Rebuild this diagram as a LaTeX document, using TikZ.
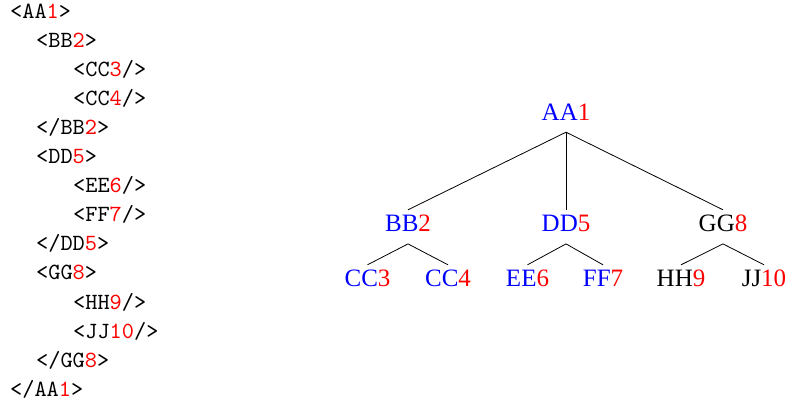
\documentclass[tikz,border=0pt]{standalone}
\usepackage{fontspec}
\setmonofont{lmmono10-regular}[Extension=.otf]
\newfontfamily\treefont{Liberation Serif}
\newcommand\rn[1]{\textcolor{red}{#1}}
\newcommand\bl[1]{\textcolor{blue}{#1}}
\begin{document}
\begin{tikzpicture}[x=1pt,y=-1pt,
  codeline/.style={anchor=base west,inner sep=0pt,font=\fontsize{23.2}{29}\selectfont\ttfamily},
  tnode/.style={anchor=base,inner xsep=2pt,inner ysep=3pt,text height=18.7pt,text depth=9pt,font=\fontsize{25}{30}\selectfont\treefont},
  edge/.style={draw=black,line width=0.8pt}]
\useasboundingbox (0,0) rectangle (790,407);
% code listing
\node[codeline] (c1) at (10,18) {<AA\rn{1}>};
\node[codeline] (c2) at (36,47.1) {<BB\rn{2}>};
\node[codeline] (c3) at (73,76.2) {<CC\rn{3}/>};
\node[codeline] (c4) at (73,105.3) {<CC\rn{4}/>};
\node[codeline] (c5) at (36,134.4) {</BB\rn{2}>};
\node[codeline] (c6) at (36,163.5) {<DD\rn{5}>};
\node[codeline] (c7) at (73,192.6) {<EE\rn{6}/>};
\node[codeline] (c8) at (73,221.7) {<FF\rn{7}/>};
\node[codeline] (c9) at (36,250.8) {</DD\rn{5}>};
\node[codeline] (c10) at (36,279.9) {<GG\rn{8}>};
\node[codeline] (c11) at (73,309) {<HH\rn{9}/>};
\node[codeline] (c12) at (73,338.1) {<JJ\rn{10}/>};
\node[codeline] (c13) at (36,367.2) {</GG\rn{8}>};
\node[codeline] (c14) at (10,396.3) {</AA\rn{1}>};
% tree
\node[tnode] (aa) at (566,120) {\bl{AA}\rn{1}};
\node[tnode] (bb) at (408,231.7) {\bl{BB}\rn{2}};
\node[tnode] (dd) at (566,231.7) {\bl{DD}\rn{5}};
\node[tnode] (gg) at (723,231.7) {GG\rn{8}};
\node[tnode] (cc3) at (367.5,286.7) {\bl{CC}\rn{3}};
\node[tnode] (cc4) at (448,286.7) {\bl{CC}\rn{4}};
\node[tnode] (ee) at (527.5,286.7) {\bl{EE}\rn{6}};
\node[tnode] (ff) at (603,286.7) {\bl{FF}\rn{7}};
\node[tnode] (hh) at (681,286.7) {HH\rn{9}};
\node[tnode] (jj) at (764,286.7) {JJ\rn{10}};
\path[edge] (aa.south) -- (bb.north);
\path[edge] (aa.south) -- (dd.north);
\path[edge] (aa.south) -- (gg.north);
\path[edge] (bb.south) -- (cc3.north);
\path[edge] (bb.south) -- (cc4.north);
\path[edge] (dd.south) -- (ee.north);
\path[edge] (dd.south) -- (ff.north);
\path[edge] (gg.south) -- (hh.north);
\path[edge] (gg.south) -- (jj.north);
\end{tikzpicture}
\end{document}
